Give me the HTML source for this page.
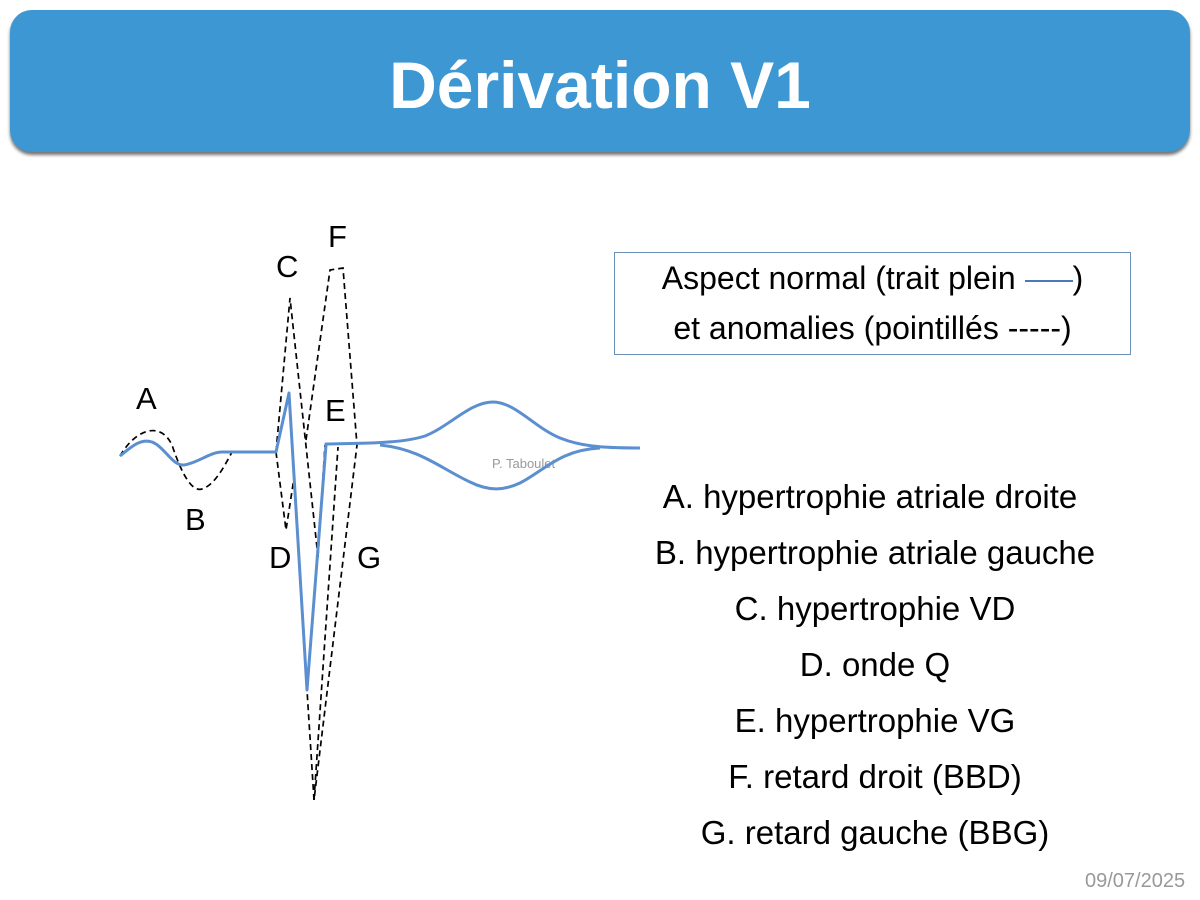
<!DOCTYPE html>
<html><head><meta charset="utf-8"><style>
body{margin:0;width:1200px;height:900px;background:#fff;position:relative;overflow:hidden;font-family:"Liberation Sans",Arial,sans-serif}
.hdr{position:absolute;left:10px;top:10px;width:1180px;height:142px;background:#3d97d3;border-radius:22px;box-shadow:0 3px 3px rgba(0,0,0,.55)}
.hdr div{position:absolute;left:0;right:0;top:40px;text-align:center;color:#fff;font-weight:bold;font-size:66px;line-height:70px}
.leg{position:absolute;left:614px;top:252px;width:517px;height:103px;border:1px solid #6b8fb5;box-sizing:border-box;text-align:center;font-size:32px;line-height:50px;color:#000;white-space:nowrap}
.list{position:absolute;left:625px;width:500px;text-align:center;font-size:33px;line-height:36px;white-space:nowrap}
.t{position:absolute;font-size:31px}
</style></head><body>
<div class="hdr"><div>Dérivation V1</div></div>
<div class="leg">Aspect normal (trait plein <span style="display:inline-block;width:48px;border-top:2px solid #4a78b8;vertical-align:middle"></span>)<br>et anomalies (pointillés -----)</div>
<div class="list" style="top:479px;left:620px">A. hypertrophie atriale droite</div>
<div class="list" style="top:535px">B. hypertrophie atriale gauche</div>
<div class="list" style="top:591px">C. hypertrophie VD</div>
<div class="list" style="top:647px">D. onde Q</div>
<div class="list" style="top:703px">E. hypertrophie VG</div>
<div class="list" style="top:759px">F. retard droit (BBD)</div>
<div class="list" style="top:815px">G. retard gauche (BBG)</div>
<div style="position:absolute;left:1085px;top:870px;font-size:20px;color:#999">09/07/2025</div>
<div class="t" style="left:136px;top:381px">A</div>
<div class="t" style="left:185px;top:502px">B</div>
<div class="t" style="left:276px;top:249px">C</div>
<div class="t" style="left:328px;top:219px">F</div>
<div class="t" style="left:325px;top:393px">E</div>
<div class="t" style="left:269px;top:540px">D</div>
<div class="t" style="left:357px;top:540px">G</div>
<div style="position:absolute;left:492px;top:456px;font-size:13px;color:#999">P. Taboulet</div>
<svg width="1200" height="900" style="position:absolute;left:0;top:0">
<g fill="none" stroke="#000" stroke-width="1.7" stroke-dasharray="6,4">
<path d="M120,456 C135,430 160,420 172,445 C182,475 192,492 202,489 C215,485 225,465 232,452"/>
<path d="M276,452 L290,298 L318,557"/>
<path d="M276,452 L286,530 L294,478"/>
<path d="M306,440 L330,270 L343,268 L357,445 L314,800 L307,690"/>
<path d="M314,800 L338,447"/>
<path d="M318,557 L325,445"/>
</g>
<g fill="none" stroke="#5b8fd0" stroke-width="3" stroke-linejoin="round">
<path d="M120,456 C130,448 140,438 152,442 C165,447 172,466 184,465 C198,463 210,452 222,452 L276,452 L289,393 L307,690 L326,445 L326,444 C360,443 400,444 425,436 C450,426 470,402 493,402 C515,402 535,428 560,438 C580,446 600,448 640,448"/>
<path d="M380,445 C420,449 440,468 470,482 C490,492 505,490 520,483 C545,470 560,450 600,448"/>
</g>
</svg>
</body></html>
